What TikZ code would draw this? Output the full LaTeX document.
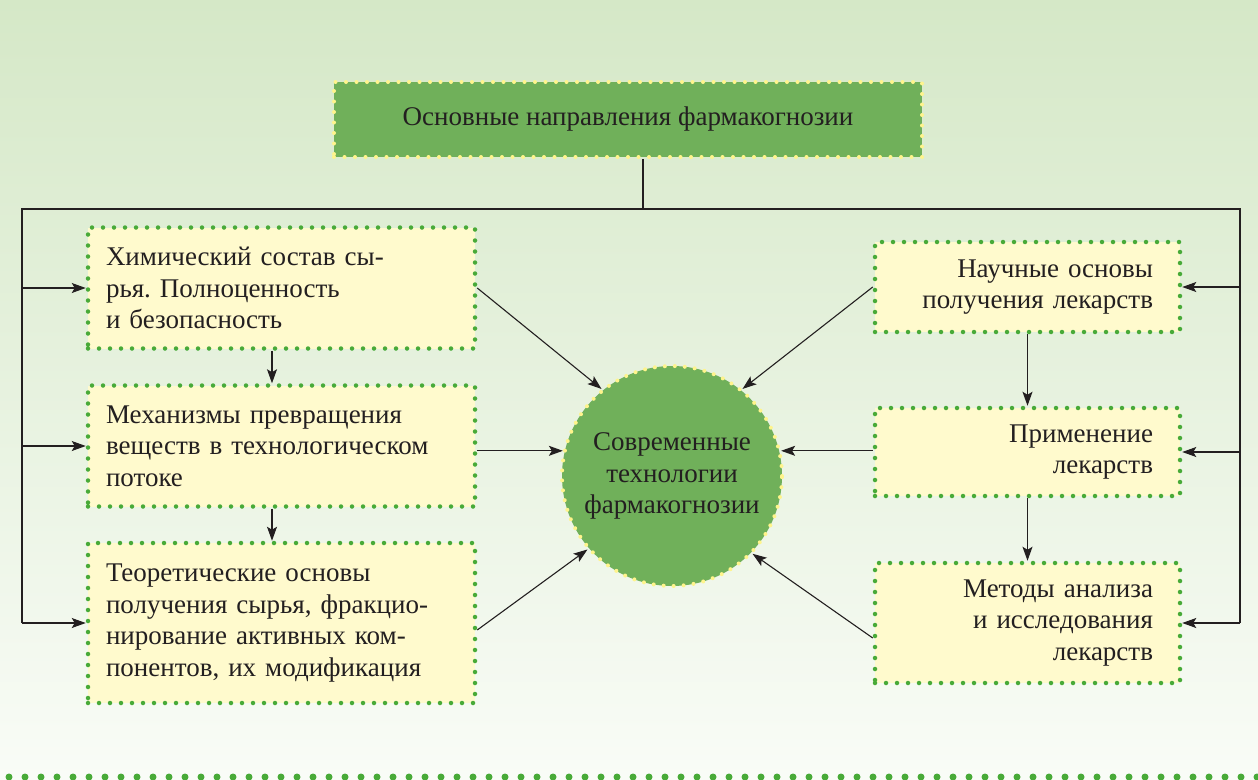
\documentclass[tikz,border=0pt]{standalone}
\usepackage{fontspec}
\setmainfont{Liberation Serif}
\newfontfamily\bookfont{Liberation Serif}
\frenchspacing
\usetikzlibrary{arrows.meta}

\definecolor{ink}{RGB}{35,31,32}
\definecolor{boxfill}{RGB}{255,250,205}
\definecolor{darkfill}{RGB}{112,176,90}
\definecolor{dotgreen}{RGB}{72,170,56}
\definecolor{dotyellow}{RGB}{255,244,140}
\definecolor{bgtop}{RGB}{213,232,199}
\definecolor{bgbot}{RGB}{249,252,247}

\begin{document}
\begin{tikzpicture}[x=1pt, y=-1pt,
    every node/.style={font=\bookfont\fontsize{27}{31.5}\selectfont, text=ink},
    box/.style={rectangle, fill=boxfill, draw=dotgreen, line width=4.5pt,
      dash pattern=on 0pt off 11pt, line cap=round},
    leftbox/.style={box, text width=351pt, inner xsep=18pt, align=left},
    rightbox/.style={box, text width=251pt, inner xsep=27pt, align=right},
    wire/.style={draw=ink, line width=1.1pt},
    arr/.style={wire, -{Stealth[length=14pt, width=10pt, inset=3pt]}}]
  \useasboundingbox (0,0) rectangle (1258,779);
  \shade[top color=bgtop, bottom color=bgbot] (0,0) rectangle (1258,779);
  \draw[dotgreen, line width=7pt, line cap=round, dash pattern=on 0pt off 16pt]
    (9,777) -- (1258,777);

  % main heading
  \node[fill=darkfill, draw=dotyellow, line width=4pt, dash pattern=on 0pt off 10.5pt,
    line cap=round, minimum width=588pt, minimum height=75pt] (top) at (628,119.5)
    {Основные направления фармакогнозии};

  % left column
  \node[leftbox, minimum height=121pt] (l1) at (281.5,288)
    {Химический состав сы-\\рья. Полноценность\\и безопасность};
  \node[leftbox, minimum height=121pt] (l2) at (281.5,446)
    {Механизмы превращения\\веществ в технологическом\\потоке};
  \node[leftbox, minimum height=160pt] (l3) at (281.5,623)
    {Теоретические основы\\получения сырья, фракцио-\\нирование активных ком-\\понентов, их модификация};

  % right column
  \node[rightbox, minimum height=90pt] (r1) at (1027.5,287)
    {Научные основы\\получения лекарств};
  \node[rightbox, minimum height=88pt] (r2) at (1027.5,452)
    {Применение\\лекарств};
  \node[rightbox, minimum height=120pt] (r3) at (1027.5,623)
    {Методы анализа\\и исследования\\лекарств};

  % centre
  \node[circle, fill=darkfill, draw=dotyellow, line width=4pt, dash pattern=on 0pt off 10pt,
    line cap=round, minimum size=220pt, inner sep=0pt, align=center] (tech) at (672,476)
    {Современные\\технологии\\фармакогнозии};

  % bus
  \coordinate (busl) at (22,209);
  \coordinate (busr) at (1240,209);
  \draw[wire] ([xshift=15pt]top.south) -- ([xshift=15pt]top.south |- busl);
  \draw[wire] (busl |- l3.west) -- (busl) -- (busr) -- (busr |- r3.east);
  \foreach \n in {l1,l2,l3} \draw[arr] (busl |- \n.west) -- (\n.west);
  \foreach \n in {r1,r2,r3} \draw[arr] (busr |- \n.east) -- (\n.east);

  % chains
  \draw[arr] ([xshift=-9.5pt]l1.south) -- ([xshift=-9.5pt]l2.north);
  \draw[arr] ([xshift=-9.5pt]l2.south) -- ([xshift=-9.5pt]l3.north);
  \draw[arr] (r1.south) -- (r2.north);
  \draw[arr] (r2.south) -- (r3.north);

  % into the centre
  \draw[arr] (l1.east) -- (tech.129);
  \draw[arr] (l2.east |- tech.167) -- (tech.167);
  \draw[arr] ([yshift=-7pt]l3.east) -- (tech.221);
  \draw[arr] (r1.west) -- (tech.51);
  \draw[arr] (r2.west |- tech.13) -- (tech.13);
  \draw[arr] ([yshift=-15pt]r3.west) -- (tech.316);
\end{tikzpicture}
\end{document}
